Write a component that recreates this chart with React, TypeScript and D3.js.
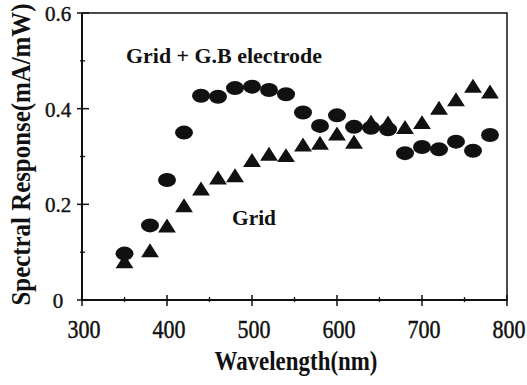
import React from 'react';
import * as d3 from 'd3';

// wavelengths (nm) shared by both series
const wavelengths = [350, 380, 400, 420, 440, 460, 480, 500, 520, 540, 560, 580, 600, 620, 640, 660, 680, 700, 720, 740, 760, 780];

// Grid + G.B electrode (circles)
const gbElectrode = [0.097, 0.156, 0.251, 0.35, 0.427, 0.425, 0.443, 0.446, 0.439, 0.43, 0.392, 0.364, 0.386, 0.362, 0.36, 0.357, 0.307, 0.32, 0.315, 0.331, 0.312, 0.345];

// Grid only (triangles)
const gridOnly = [0.076, 0.099, 0.151, 0.193, 0.228, 0.251, 0.256, 0.288, 0.301, 0.298, 0.32, 0.324, 0.343, 0.326, 0.368, 0.366, 0.357, 0.367, 0.397, 0.415, 0.443, 0.431];

const xTicks = [300, 400, 500, 600, 700, 800];
const xMinor = [350, 450, 550, 650, 750];
const yTicks = [0, 0.2, 0.4, 0.6];
const yMinor = [0.1, 0.3, 0.5];
const yTickLabels = ['0', '0.2', '0.4', '0.6'];

const W = 527;
const H = 385;
const margin = { top: 13, right: 20, bottom: 85, left: 82 };
const FONT = '"Liberation Serif", "Times New Roman", serif';

export default function App() {
  const x = d3.scaleLinear().domain([300, 800]).range([margin.left, W - margin.right]);
  const y = d3.scaleLinear().domain([0, 0.6]).range([H - margin.bottom, margin.top]);
  const x0 = x.range()[0], x1 = x.range()[1];
  const y0 = y.range()[0], y1 = y.range()[1];

  const tri = d3.symbol().type(d3.symbolTriangle).size(125);

  return (
    <svg width={W} height={H} style={{ position: 'absolute', left: 0, top: 0, background: '#fff' }}>
      {/* frame */}
      <rect x={x0} y={y1} width={x1 - x0} height={y0 - y1} fill="none" stroke="#111" strokeWidth={1.5} />
      <line x1={x0} x2={x1} y1={y0} y2={y0} stroke="#111" strokeWidth={2} />
      <line x1={x0} x2={x0} y1={y0} y2={y1} stroke="#111" strokeWidth={2} />

      {/* x ticks */}
      {xTicks.map(t => (
        <line key={'xt' + t} x1={x(t)} x2={x(t)} y1={y0 - 5} y2={y0 + 6} stroke="#111" strokeWidth={1.5} />
      ))}
      {xMinor.map(t => (
        <line key={'xm' + t} x1={x(t)} x2={x(t)} y1={y0 - 3} y2={y0 + 2} stroke="#111" strokeWidth={1.3} />
      ))}
      {xTicks.map(t => (
        <text key={'xl' + t} transform={`translate(${x(t) + 2},${y0 + 38}) scale(1,1.15)`} textAnchor="middle" fontFamily={FONT}
          fontSize={22} fill="#111" stroke="#111" strokeWidth={0.4}>
          {t}
        </text>
      ))}

      {/* y ticks */}
      {yTicks.map(t => (
        <line key={'yt' + t} x1={x0 - 5} x2={x0 + 7} y1={y(t)} y2={y(t)} stroke="#111" strokeWidth={1.5} />
      ))}
      {yMinor.map(t => (
        <line key={'ym' + t} x1={x0 - 2} x2={x0 + 3} y1={y(t)} y2={y(t)} stroke="#111" strokeWidth={1.3} />
      ))}
      {yTicks.map((t, i) => (
        <text key={'yl' + t} x={58} y={y(t) + 8} textAnchor="middle" fontFamily={FONT}
          fontSize={21} fill="#111" stroke="#111" strokeWidth={0.4}>
          {yTickLabels[i]}
        </text>
      ))}

      {/* circles: Grid + G.B electrode */}
      {wavelengths.map((w, i) => (
        <ellipse key={'c' + w} cx={x(w)} cy={y(gbElectrode[i])} rx={9} ry={7} fill="#111" />
      ))}

      {/* triangles: Grid */}
      {wavelengths.map((w, i) => (
        <path key={'t' + w} d={tri() as string} transform={`translate(${x(w)},${y(gridOnly[i])}) scale(1.05,0.95)`} fill="#111" />
      ))}

      {/* annotations */}
      <text transform="translate(126,63) scale(1,1.1)" fontFamily={FONT} fontWeight="bold" fontSize={20} fill="#111"
        textLength={196} lengthAdjust="spacingAndGlyphs">
        Grid + G.B electrode
      </text>
      <text transform="translate(232,225) scale(1,1.1)" fontFamily={FONT} fontWeight="bold" fontSize={20} fill="#111"
        textLength={44} lengthAdjust="spacingAndGlyphs">
        Grid
      </text>

      {/* axis titles */}
      <text transform="translate(296,370) scale(1,1.2)" textAnchor="middle" fontFamily={FONT} fontWeight="bold" fontSize={23}
        fill="#111" textLength={163} lengthAdjust="spacingAndGlyphs">
        Wavelength(nm)
      </text>
      <text transform={`translate(30,${(y0 + 5) / 2 + 2}) rotate(-90) scale(1,1.15)`} textAnchor="middle" fontFamily={FONT}
        fontWeight="bold" fontSize={23} fill="#111" textLength={302} lengthAdjust="spacingAndGlyphs">
        Spectral Response(mA/mW)
      </text>
    </svg>
  );
}
